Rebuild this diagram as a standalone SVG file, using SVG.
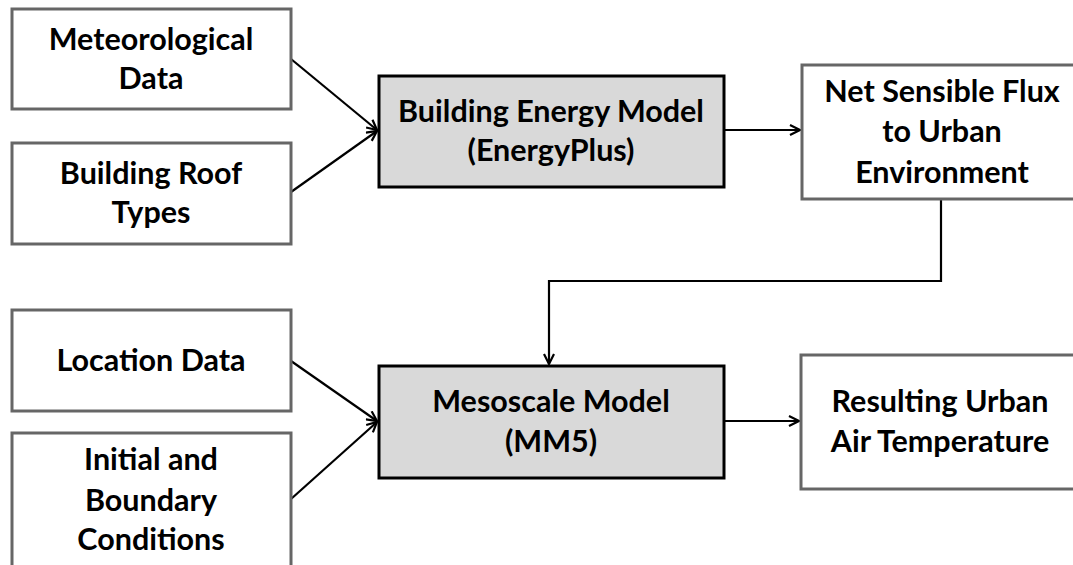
<svg xmlns="http://www.w3.org/2000/svg" width="1073" height="565" viewBox="0 0 1073 565">
<defs>
<style>
.in{fill:#fff;stroke:#666;stroke-width:3}
.md{fill:#d9d9d9;stroke:#000;stroke-width:3}
text{font-family:Lato,"Open Sans","Liberation Sans",sans-serif;font-weight:bold;font-size:30.5px;fill:#000;text-anchor:middle}
.c{fill:none;stroke:#000;stroke-width:2.2}
</style>
<marker id="ah" viewBox="0 0 12 12" refX="11" refY="6" markerWidth="12" markerHeight="12" markerUnits="userSpaceOnUse" orient="auto">
<path d="M1,1 L11,6 L1,11" fill="none" stroke="#000" stroke-width="2.2"/>
</marker>
</defs>
<rect width="1073" height="565" fill="#fff"/>
<g id="connectors">
<line class="c" x1="291" y1="59" x2="377" y2="130" marker-end="url(#ah)"/>
<line class="c" x1="291" y1="192" x2="377" y2="131" marker-end="url(#ah)"/>
<line class="c" x1="291" y1="361" x2="377" y2="421" marker-end="url(#ah)"/>
<line class="c" x1="291" y1="499" x2="377" y2="422" marker-end="url(#ah)"/>
<line class="c" x1="724" y1="130" x2="800" y2="130" marker-end="url(#ah)"/>
<line class="c" x1="724" y1="421" x2="799" y2="421" marker-end="url(#ah)"/>
<polyline class="c" points="941,199 941,281 549,281 549,364" marker-end="url(#ah)"/>
</g>
<g id="met"><rect class="in" x="12" y="9" width="279" height="100"/><text x="151" y="50">Meteorological</text><text x="151" y="89">Data</text></g>
<g id="roof"><rect class="in" x="12" y="143" width="279" height="101"/><text x="151" y="184">Building Roof</text><text x="151" y="223">Types</text></g>
<g id="bem"><rect class="md" x="379" y="76" width="345" height="111"/><text x="551" y="122">Building Energy Model</text><text x="551" y="161">(EnergyPlus)</text></g>
<g id="flux"><rect class="in" x="802" y="65" width="275" height="134"/><text x="942" y="102">Net Sensible Flux</text><text x="942" y="142">to Urban</text><text x="942" y="183">Environment</text></g>
<g id="loc"><rect class="in" x="12" y="310" width="279" height="101"/><text x="151" y="371">Location Data</text></g>
<g id="init"><rect class="in" x="12" y="433" width="279" height="140"/><text x="151" y="470">Initial and</text><text x="151" y="511">Boundary</text><text x="151" y="550">Conditions</text></g>
<g id="mm5"><rect class="md" x="379" y="366" width="345" height="112"/><text x="551" y="412">Mesoscale Model</text><text x="551" y="452">(MM5)</text></g>
<g id="res"><rect class="in" x="801" y="355" width="276" height="134"/><text x="940" y="412">Resulting Urban</text><text x="940" y="452">Air Temperature</text></g>
</svg>
